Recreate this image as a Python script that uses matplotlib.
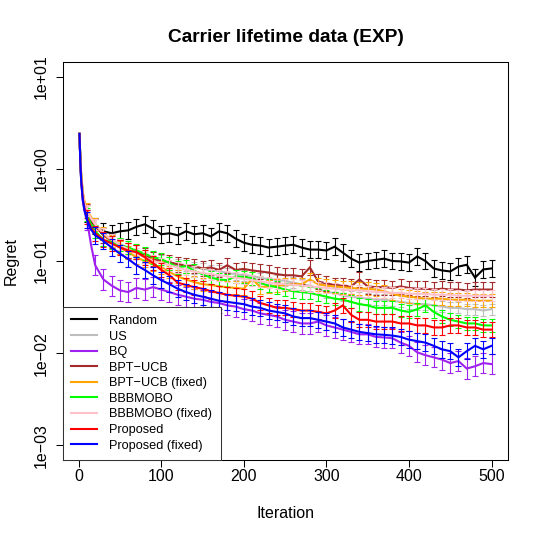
import matplotlib
matplotlib.use("Agg")
import matplotlib.pyplot as plt
import numpy as np
from matplotlib.ticker import NullLocator, FixedLocator

plt.rcParams['font.family'] = ['Liberation Sans', 'DejaVu Sans']

iters = [1, 2, 3, 5, 7, 10, 15, 20, 30, 40, 50, 60, 70, 80, 90, 100, 110, 120, 130, 140,
         150, 160, 170, 180, 190, 200, 210, 220, 230, 240, 250, 260, 270, 280, 290, 300,
         310, 320, 330, 340, 350, 360, 370, 380, 390, 400, 410, 420, 430, 440, 450, 460,
         470, 480, 490, 500]

random_v = [2.4, 1.3, 0.85, 0.52, 0.4, 0.33, 0.27, 0.24, 0.21, 0.2, 0.21, 0.215, 0.235, 0.25,
            0.225, 0.195, 0.2, 0.19, 0.21, 0.195, 0.2, 0.185, 0.21, 0.2, 0.175, 0.158, 0.15,
            0.147, 0.14, 0.143, 0.147, 0.15, 0.14, 0.133, 0.133, 0.13, 0.143, 0.123, 0.106,
            0.096, 0.1, 0.103, 0.106, 0.1, 0.099, 0.096, 0.112, 0.1, 0.083, 0.079, 0.077,
            0.087, 0.091, 0.066, 0.081, 0.083]
us_v = [2.4, 1.3, 0.85, 0.53, 0.42, 0.35, 0.29, 0.25, 0.2, 0.17, 0.152, 0.138, 0.13, 0.116,
        0.109, 0.1, 0.097, 0.091, 0.089, 0.084, 0.083, 0.079, 0.078, 0.074, 0.072, 0.07,
        0.069, 0.065, 0.064, 0.062, 0.061, 0.058, 0.056, 0.054, 0.05, 0.046, 0.045, 0.042,
        0.041, 0.04, 0.039, 0.038, 0.038, 0.037, 0.036, 0.035, 0.034, 0.034, 0.033, 0.032,
        0.031, 0.031, 0.030, 0.030, 0.029, 0.030]
bq_v = [2.4, 1.2, 0.75, 0.45, 0.35, 0.28, 0.15, 0.09, 0.063, 0.054, 0.048, 0.046, 0.051,
        0.049, 0.052, 0.049, 0.046, 0.043, 0.041, 0.039, 0.038, 0.036, 0.035, 0.033, 0.032,
        0.030, 0.029, 0.027, 0.026, 0.025, 0.023, 0.022, 0.021, 0.021, 0.022, 0.020, 0.019,
        0.018, 0.017, 0.016, 0.016, 0.015, 0.0148, 0.0145, 0.013, 0.012, 0.0102, 0.0095,
        0.009, 0.0085, 0.0078, 0.0082, 0.0068, 0.0072, 0.0078, 0.0076]
bptucb_v = [2.4, 1.3, 0.85, 0.53, 0.42, 0.35, 0.28, 0.24, 0.19, 0.165, 0.145, 0.13, 0.125,
            0.115, 0.105, 0.1, 0.097, 0.092, 0.09, 0.088, 0.083, 0.085, 0.08, 0.09, 0.08,
            0.082, 0.079, 0.077, 0.075, 0.072, 0.07, 0.07, 0.068, 0.085, 0.06, 0.057, 0.055,
            0.054, 0.053, 0.063, 0.053, 0.052, 0.052, 0.051, 0.053, 0.051, 0.05, 0.05, 0.049,
            0.05, 0.049, 0.049, 0.048, 0.049, 0.049, 0.049]
bptucb_fixed_v = [2.4, 1.35, 0.9, 0.56, 0.45, 0.36, 0.3, 0.25, 0.2, 0.165, 0.14, 0.125, 0.11,
                  0.1, 0.092, 0.085, 0.076, 0.068, 0.063, 0.059, 0.056, 0.055, 0.053, 0.052,
                  0.051, 0.05, 0.064, 0.052, 0.053, 0.054, 0.055, 0.056, 0.056, 0.063, 0.056,
                  0.054, 0.053, 0.052, 0.051, 0.05, 0.05, 0.049, 0.047, 0.044, 0.042, 0.041,
                  0.04, 0.039, 0.039, 0.039, 0.038, 0.038, 0.038, 0.037, 0.037, 0.037]
bbbmobo_v = [2.4, 1.25, 0.8, 0.5, 0.4, 0.32, 0.25, 0.21, 0.17, 0.16, 0.15, 0.14, 0.13, 0.12,
             0.11, 0.105, 0.095, 0.085, 0.088, 0.078, 0.072, 0.066, 0.063, 0.062, 0.068,
             0.067, 0.065, 0.058, 0.054, 0.052, 0.049, 0.047, 0.046, 0.045, 0.043, 0.041,
             0.039, 0.038, 0.036, 0.034, 0.033, 0.031, 0.031, 0.031, 0.029, 0.028, 0.03,
             0.033, 0.028, 0.025, 0.023, 0.022, 0.021, 0.021, 0.02, 0.02]
bbbmobo_fixed_v = [2.4, 1.3, 0.85, 0.54, 0.43, 0.35, 0.29, 0.25, 0.2, 0.17, 0.15, 0.135,
                   0.12, 0.11, 0.1, 0.095, 0.09, 0.085, 0.08, 0.077, 0.074, 0.072, 0.07,
                   0.068, 0.066, 0.064, 0.062, 0.06, 0.058, 0.057, 0.056, 0.055, 0.054,
                   0.053, 0.052, 0.051, 0.05, 0.049, 0.048, 0.048, 0.047, 0.046, 0.046,
                   0.045, 0.045, 0.044, 0.044, 0.044, 0.043, 0.043, 0.043, 0.042, 0.042,
                   0.042, 0.042, 0.042]
proposed_v = [2.4, 1.2, 0.78, 0.48, 0.38, 0.3, 0.23, 0.2, 0.17, 0.155, 0.14, 0.13, 0.125,
              0.11, 0.095, 0.08, 0.07, 0.058, 0.055, 0.052, 0.05, 0.047, 0.045, 0.043,
              0.042, 0.041, 0.039, 0.035, 0.033, 0.031, 0.031, 0.030, 0.029, 0.029, 0.028,
              0.027, 0.029, 0.033, 0.026, 0.023, 0.023, 0.022, 0.022, 0.022, 0.021, 0.021,
              0.02, 0.02, 0.019, 0.019, 0.02, 0.02, 0.019, 0.019, 0.018, 0.018]
proposed_fixed_v = [2.4, 1.2, 0.75, 0.46, 0.36, 0.28, 0.22, 0.19, 0.165, 0.14, 0.12, 0.105,
                    0.09, 0.08, 0.07, 0.062, 0.056, 0.05, 0.046, 0.043, 0.041, 0.039, 0.037,
                    0.036, 0.035, 0.034, 0.032, 0.031, 0.029, 0.028, 0.027, 0.025, 0.024,
                    0.024, 0.023, 0.022, 0.021, 0.019, 0.018, 0.017, 0.0165, 0.016, 0.0158,
                    0.0155, 0.015, 0.014, 0.0135, 0.013, 0.012, 0.011, 0.0105, 0.009, 0.0105,
                    0.012, 0.011, 0.012]

labels = ["Random", "US", "BQ", "BPT\u2212UCB", "BPT\u2212UCB (fixed)", "BBBMOBO",
          "BBBMOBO (fixed)", "Proposed", "Proposed (fixed)"]
series = [random_v, us_v, bq_v, bptucb_v, bptucb_fixed_v, bbbmobo_v, bbbmobo_fixed_v,
          proposed_v, proposed_fixed_v]
colors = ["#000000", "#BEBEBE", "#A020F0", "#A52A2A", "#FFA500", "#00FF00", "#FFC0CB",
          "#FF0000", "#0000FF"]
# error bar half-height in log10 units
err_log = [0.09, 0.06, 0.11, 0.08, 0.07, 0.07, 0.06, 0.08, 0.09]

xticks = [0, 100, 200, 300, 400, 500]
yticks = [1e-3, 1e-2, 1e-1, 1e0, 1e1]
ytick_labels = ["1e\u221203", "1e\u221202", "1e\u221201", "1e+00", "1e+01"]

W = 540
fig = plt.figure(figsize=(5.4, 5.4), dpi=100)
ax = fig.add_axes([63 / W, 1 - 460 / W, (508 - 63) / W, (460 - 62) / W])
ax.set_yscale('log')

x = np.array(iters)
handles = []
for vals, col, e, lab in zip(series, colors, err_log, labels):
    v = np.array(vals)
    h, = ax.plot(x, v, color=col, lw=1.5, label=lab, solid_joinstyle='miter')
    handles.append(h)
    m = (x % 10 == 0)
    lo = v[m] - v[m] / 10 ** e
    hi = v[m] * 10 ** e - v[m]
    ax.errorbar(x[m], v[m], yerr=[lo, hi], fmt='none', ecolor=col, elinewidth=0.8,
                capsize=2.4, capthick=0.8)

ax.set_xlim(1 - 0.04 * 499, 500 + 0.04 * 499)
ax.set_ylim(10 ** (-3 - 0.16), 10 ** (1 + 0.16))
ax.xaxis.set_major_locator(FixedLocator(xticks))
ax.yaxis.set_major_locator(FixedLocator(yticks))
ax.yaxis.set_minor_locator(NullLocator())
ax.set_xticklabels([str(t) for t in xticks])
ax.set_yticklabels(ytick_labels)
ax.tick_params(axis='both', direction='out', length=5, width=0.75, labelsize=11.5,
               color='black')
ax.tick_params(axis='x', pad=1.8)
ax.tick_params(axis='y', pad=5.3, labelrotation=90)
for lbl in ax.get_yticklabels():
    lbl.set_va('center')
for s in ax.spines.values():
    s.set_linewidth(0.75)
    s.set_color('black')

leg = ax.legend(handles=handles, loc='lower left', frameon=True, fancybox=False,
                framealpha=1, edgecolor='#333333', fontsize=9.2, borderaxespad=0,
                handlelength=2.0, handletextpad=0.95, labelspacing=0.28, borderpad=0.66)
leg.get_frame().set_linewidth(0.75)

fig.text(285.5 / W, 1 - 37 / W, "Carrier lifetime data (EXP)", ha='center', va='center',
         fontsize=13.8, fontweight='bold')
fig.text(285.5 / W, 1 - 514 / W, "Iteration", ha='center', va='center', fontsize=11.5)
fig.text(11 / W, 1 - 261 / W, "Regret", ha='center', va='center', rotation=90,
         fontsize=11.5)

fig.savefig("out.png", dpi=100)
